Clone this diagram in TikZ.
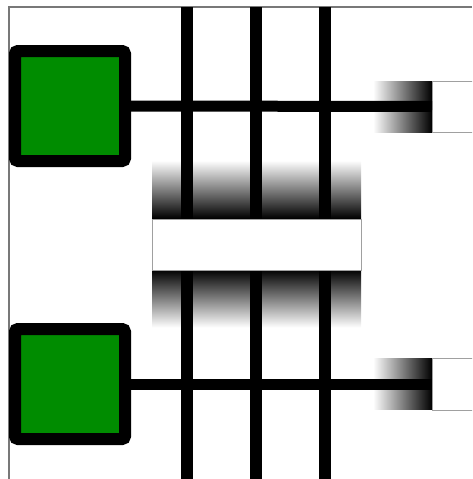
\documentclass[tikz,border=0pt]{standalone}
\usepackage{tikz}
\definecolor{sqgreen}{RGB}{0,140,0}
\definecolor{framegray}{RGB}{120,120,120}
\tikzset{
  sqbox/.style={draw=black, line width=12pt, fill=sqgreen, rounded corners=3pt,
    minimum width=110pt, minimum height=110pt, inner sep=0pt, outer sep=0pt},
  whitebox/.style={draw=framegray!70, line width=1pt, fill=white, inner sep=0pt, outer sep=0pt},
  vgrad/.style={inner sep=0pt, outer sep=0pt, minimum width=209pt, minimum height=58pt},
  hgrad/.style={inner sep=0pt, outer sep=0pt, minimum width=59pt, minimum height=51pt, left color=white, right color=black},
  bar/.style={line width=12pt, black},
  link/.style={line width=11pt, black},
  frameline/.style={line width=1.2pt, framegray}
}
\begin{document}
\begin{tikzpicture}[x=1pt,y=-1pt]
\useasboundingbox (0,0) rectangle (472,479);
\clip (0,0) rectangle (472,479);
% frame
\coordinate (f1) at (9,479);
\coordinate (f2) at (9,7);
\coordinate (f3) at (472,7);
\draw[frameline] (f1) -- (f2) -- (f3);
% gradients around middle box
\node[vgrad, top color=white, bottom color=black] (gtop) at (256.5,189.5) {};
\node[vgrad, top color=black, bottom color=white] (gbot) at (256.5,298.5) {};
% right gradients
\node[hgrad] (grt) at (402.5,106.5) {};
\node[hgrad] (grb) at (402.5,384) {};
% right boxes
\node[whitebox, minimum width=80pt, minimum height=51pt] (rt) at (472,106.5) {};
\node[whitebox, minimum width=80pt, minimum height=52pt] (rb) at (472,384) {};
% vertical bars
\foreach \x/\n in {187/a,256/b,325/c}{
  \coordinate (t\n) at (\x,7);
  \coordinate (b\n) at (\x,479);
  \draw[bar] (t\n) -- (b\n);
}
% middle white box
\node[whitebox, minimum width=209pt, minimum height=51pt] (mid) at (256.5,244.5) {};
% squares
\node[sqbox] (s1) at (70,106) {};
\node[sqbox] (s2) at (70,384) {};
% links
\draw[link] (s1.east) -- (rt.west);
\draw[link] (s2.east) -- (rb.west);
\end{tikzpicture}
\end{document}
